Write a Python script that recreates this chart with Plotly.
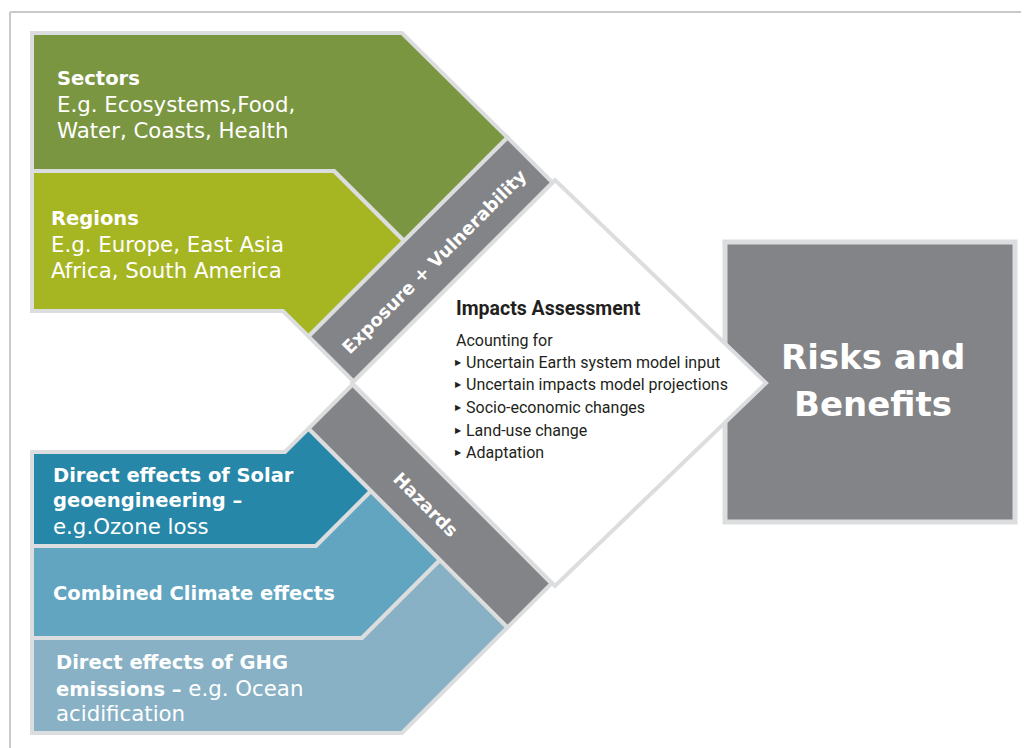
import plotly.graph_objects as go

# ---------------- content ----------------
exposure_titles = ["Sectors", "Regions"]
exposure_lines = [["E.g. Ecosystems,Food,", "Water, Coasts, Health"],
                  ["E.g. Europe, East Asia", "Africa, South America"]]
hazard_lines = [["<b>Direct effects of Solar</b>", "<b>geoengineering –</b>", "e.g.Ozone loss"],
                ["<b>Combined Climate effects</b>"],
                ["<b>Direct effects of GHG</b>", "<b>emissions –</b> e.g. Ocean", "acidification"]]
band_labels = ["Exposure + Vulnerability", "Hazards"]
impacts_title = "Impacts Assessment"
impacts_intro = "Acounting for"
impacts_items = ["Uncertain Earth system model input",
                 "Uncertain impacts model projections",
                 "Socio-economic changes",
                 "Land-use change",
                 "Adaptation"]
outcome_lines = ["Risks and", "Benefits"]

# ---------------- styles / geometry ----------------
W, H = 1029, 748
OFF = 8  # page body margin
STROKE = "#dcddde"
GRAY = "#838487"
exposure_colors = ["#7b9641", "#a6b522"]
hazard_colors = ["#2687a8", "#62a5c1", "#88b1c5"]

exposure_polys = [
    [(32, 33), (402, 33), (507.5, 137.5), (404, 241), (334, 171), (32, 171)],
    [(32, 171), (334, 171), (404, 241), (308.5, 336.5), (283, 311), (32, 311)],
]
hazard_polys = [
    [(32, 452), (285, 452), (308.5, 428.5), (371, 491), (316, 546), (32, 546)],
    [(32, 546), (316, 546), (371, 491), (440, 560), (362, 638), (32, 638)],
    [(32, 638), (362, 638), (440, 560), (507.5, 627.5), (402, 733), (32, 733)],
]
band_polys = [
    [(308.5, 336.5), (507.5, 137.5), (552.5, 182.5), (353.5, 381.5)],
    [(308.5, 428.5), (352.5, 384.5), (551.5, 583.5), (507.5, 627.5)],
]
diamond = [(352, 383), (555, 180), (766, 383), (555, 586)]
outcome_box = (725, 242, 1015, 522)

fig = go.Figure()
fig.add_trace(go.Scatter(x=[OFF, W], y=[OFF, H], mode="markers",
                         marker=dict(opacity=0), hoverinfo="skip", showlegend=False))


def path(pts):
    return "M " + " L ".join(f"{x},{y}" for x, y in pts) + " Z"


# outer frame
fig.add_shape(type="line", x0=10, y0=12, x1=10, y1=H + 5, line=dict(color="#c9c9c9", width=2))
fig.add_shape(type="line", x0=10, y0=12, x1=W + 5, y1=12, line=dict(color="#c9c9c9", width=2))

# outcome box
x0, y0, x1, y1 = outcome_box
fig.add_shape(type="rect", x0=x0, y0=y0, x1=x1, y1=y1, fillcolor=GRAY,
              line=dict(color=STROKE, width=5))

# white diamond
fig.add_shape(type="path", path=path(diamond), fillcolor="white", line=dict(color=STROKE, width=4))

for pts, c in zip(exposure_polys, exposure_colors):
    fig.add_shape(type="path", path=path(pts), fillcolor=c, line=dict(color=STROKE, width=4))
for pts, c in zip(hazard_polys, hazard_colors):
    fig.add_shape(type="path", path=path(pts), fillcolor=c, line=dict(color=STROKE, width=4))
for pts in band_polys:
    fig.add_shape(type="path", path=path(pts), fillcolor=GRAY, line=dict(color=STROKE, width=4))

BODY = "DejaVu Sans"
REG = 21.3
BOLD = 19.5
ann = []


def txt(x, y, s, size, color="white", family=BODY, anchor="left", angle=0):
    ann.append(dict(x=x, y=y, text=s, showarrow=False, xanchor=anchor, yanchor="middle",
                    textangle=angle, font=dict(family=family, size=size, color=color)))


def boldsize(s):
    return s.replace("<b>", f"<b><span style='font-size:{BOLD}px'>").replace("</b>", "</span></b>")


# exposure boxes
ex_pos = [(55, [78, 104, 130]), (49, [218, 244, 270])]
for (x, ys), title, lines in zip(ex_pos, exposure_titles, exposure_lines):
    txt(x, ys[0], f"<b>{title}</b>", BOLD)
    for yy, line in zip(ys[1:], lines):
        txt(x, yy, line, REG)

# hazard boxes
hz_pos = [(51, [475, 500, 526]), (51, [593]), (54, [662, 688, 713])]
for (x, ys), lines in zip(hz_pos, hazard_lines):
    for yy, line in zip(ys, lines):
        txt(x, yy, boldsize(line), REG)

# band labels
txt(434, 261, f"<b>{band_labels[0]}</b>", 18, anchor="center", angle=-45)
txt(426, 504, f"<b>{band_labels[1]}</b>", 18, anchor="center", angle=45)

# impacts block
IMP = "Roboto"
txt(454, 308, f"<b>{impacts_title}</b>", 19.5, color="#231f20", family=IMP)
txt(454, 340, impacts_intro, 16, color="#231f20", family=IMP)
for i, item in enumerate(impacts_items):
    yy = 362 + i * 22.7
    txt(453, yy, "▶", 8, color="#231f20", family="DejaVu Sans")
    txt(464, yy, item, 16, color="#231f20", family=IMP)

# outcome
for i, line in enumerate(outcome_lines):
    txt(873, 357 + i * 47, f"<b>{line}</b>", 34, anchor="center")

fig.update_layout(
    width=W - OFF, height=H - OFF, margin=dict(l=0, r=0, t=0, b=0),
    paper_bgcolor="white", plot_bgcolor="white",
    xaxis=dict(range=[OFF, W], visible=False, fixedrange=True),
    yaxis=dict(range=[H, OFF], visible=False, fixedrange=True),
    annotations=ann, showlegend=False,
)
fig.write_html("out.html")
